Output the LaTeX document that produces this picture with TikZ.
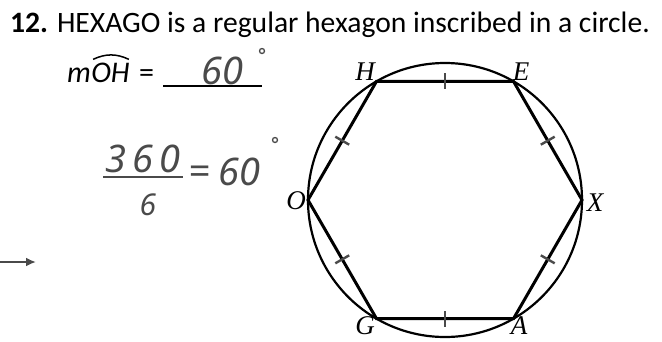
\documentclass[tikz,border=0pt]{standalone}
\usepackage{fontspec}
\setmainfont{Carlito}
\newfontfamily\vtxfont{Liberation Serif}
\newfontfamily\handfont{Noto Sans}
\usetikzlibrary{arrows.meta, positioning, calc}
\definecolor{pencil}{HTML}{4a4a4a}

\begin{document}
\begin{tikzpicture}[
  x=1pt, y=-1pt,
  vtx/.style={font=\vtxfont\itshape\fontsize{27}{27}\selectfont, inner sep=0pt},
  hand/.style={font=\handfont\itshape\fontsize{38}{38}\selectfont, text=pencil, inner sep=0pt},
  deg/.style={circle, draw=pencil, line width=1.3pt, inner sep=0pt, minimum size=5pt},
  ask/.style={font=\itshape\fontsize{30}{30}\selectfont, inner sep=0pt},
  side/.style={line width=3pt},
  tickmark/.style={line width=2.4pt, pencil},
]
\useasboundingbox (0,0) rectangle (662,341);
% Title
\node[anchor=base west, inner sep=0pt, font=\fontsize{29.6}{29.6}\selectfont] (title) at (10,32)
  {\textbf{12.} HEXAGO is a regular hexagon inscribed in a circle.};
% Arc question
\node[ask, anchor=base west] (m) at (67,82) {m};
\node[ask, anchor=base west] (oh) at (m.base east) {OH};
\node[anchor=base west, inner sep=0pt, font=\fontsize{30}{30}\selectfont] (eq) at ([xshift=9pt]oh.base east) {=};
\draw[line width=1.5pt] ([xshift=2pt,yshift=3pt]oh.north west) to[bend left=25] ([xshift=-1pt,yshift=3pt]oh.north east);
\coordinate (blank0) at (163,86);
\coordinate (blank1) at (262,86);
\draw[line width=1.6pt] (blank0) -- (blank1);
\node[hand] (ans) at (222,71) {60};
\node[deg] (ansdeg) at (262,51) {};
% Working
\node[hand] (num) at (143,159) {3\,6\,0};
\coordinate (bar0) at (103,177);
\coordinate (bar1) at (183,177);
\draw[pencil, line width=2.2pt] (bar0) -- (bar1);
\node[hand, font=\handfont\itshape\fontsize{30}{30}\selectfont] (den) at (148,205) {6};
\node[hand] (weq) at (199,175) {=};
\node[hand] (wres) at (239,172) {60};
\node[deg] (wdeg) at (275,140) {};
% Arrow
\coordinate (arr0) at (0,262);
\coordinate (arr1) at (36,262);
\draw[pencil, line width=2pt, -{Latex[length=10pt,width=9pt]}] (arr0) -- (arr1);
% Circle and hexagon
\coordinate (ctr) at (445,200);
\foreach \n/\ang in {X/0, E/-60, H/-120, O/180, G/120, A/60}
  \coordinate (\n) at ($(ctr)+(\ang:137)$);
\draw[line width=2.2pt] (ctr) circle[radius=137pt];
\draw[side, line join=miter] (H) -- (E) -- (X) -- (A) -- (G) -- (O) -- cycle;
\foreach \a/\b in {H/E, E/X, X/A, A/G, G/O, O/H}
  \draw[tickmark] ($(\a)!0.5!(\b)!8pt!90:(\b)$) -- ($(\a)!0.5!(\b)!8pt!-90:(\b)$);
% Vertex labels
\node[vtx] (lH) at (365,72) {H};
\node[vtx] (lE) at (521,72) {E};
\node[vtx] (lO) at (296,201) {O};
\node[vtx] (lX) at (595,203) {X};
\node[vtx] (lG) at (365,326) {G};
\node[vtx] (lA) at (519,326) {A};
\end{tikzpicture}
\end{document}
